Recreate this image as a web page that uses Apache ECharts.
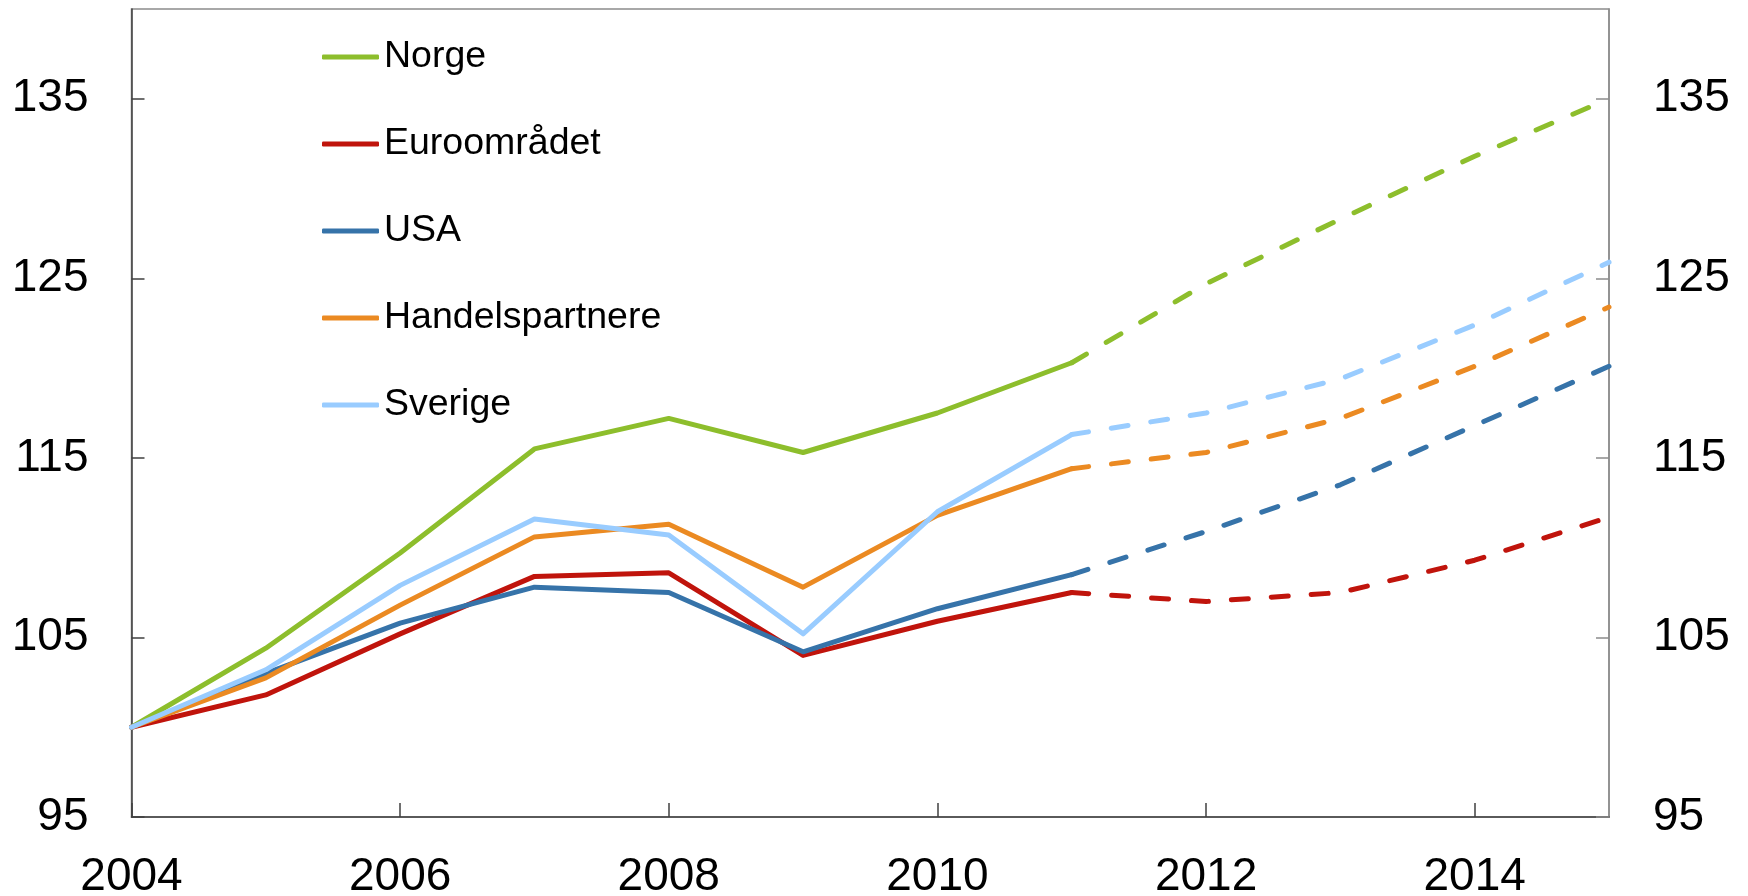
<!DOCTYPE html>
<html lang="no">
<head>
    <meta charset="UTF-8">
    <title>Norge og handelspartnere</title>
    <style>
        html, body { margin: 0; padding: 0; height: 100%; background: #fff; }
        #main { width: 1748px; height: 896px; }
    </style>
</head>
<body>
<div id="main"></div>
<script src="https://cdn.jsdelivr.net/npm/echarts@6/dist/echarts.min.js"></script>
<script type="text/javascript">
    // data, index 2004 = 100
    var years = [2004, 2005, 2006, 2007, 2008, 2009, 2010, 2011, 2012, 2013, 2014, 2015];
    var norge = [100, 104.4, 109.7, 115.5, 117.2, 115.3, 117.5, 120.3, 124.7, 128.3, 131.8, 135.0];
    var euro = [100, 101.8, 105.2, 108.4, 108.6, 104.0, 105.9, 107.5, 107.0, 107.5, 109.3, 111.7];
    var usa = [100, 103.0, 105.8, 107.8, 107.5, 104.2, 106.6, 108.5, 110.9, 113.5, 116.8, 120.1];
    var handel = [100, 102.75, 106.8, 110.6, 111.3, 107.8, 111.8, 114.4, 115.3, 117.2, 120.1, 123.4];
    var sverige = [100, 103.2, 107.9, 111.6, 110.7, 105.2, 112.0, 116.3, 117.5, 119.4, 122.4, 125.9];
    var lastActual = 2011; // after this the lines are dashed (projections)
    var yTicks = [95, 105, 115, 125, 135];

    var names = ['Norge', 'Euroområdet', 'USA', 'Handelspartnere', 'Sverige'];
    var values = [norge, euro, usa, handel, sverige];
    var colors = ['#8DBE2C', '#C0140C', '#3673A9', '#EB8A22', '#99CCFF'];

    var font = 'Liberation Sans, Arial, sans-serif';
    var myChart = echarts.init(document.getElementById('main'));

    function pairs(vals, from, to) {
        var out = [];
        years.forEach(function (y, i) {
            if (y >= from && y <= to) out.push([y, vals[i]]);
        });
        return out;
    }

    var series = [];
    names.forEach(function (name, i) {
        series.push({
            name: name,
            type: 'line',
            symbol: 'none',
            lineStyle: { color: colors[i], width: 5, cap: 'round', join: 'round' },
            itemStyle: { color: colors[i] },
            data: pairs(values[i], years[0], lastActual),
            z: 2 + i
        });
        series.push({
            name: name,
            type: 'line',
            symbol: 'none',
            lineStyle: { color: colors[i], width: 5, type: [17, 23], cap: 'round', join: 'round' },
            itemStyle: { color: colors[i] },
            data: pairs(values[i], lastActual, years[years.length - 1]),
            z: 2 + i
        });
    });

    function yAxis(pos, margin) {
        var c = pos === 'left' ? '#404040' : '#8c8c8c';
        return {
            type: 'value',
            position: pos,
            min: yTicks[0],
            max: 140,
            interval: 10,
            splitLine: { show: false },
            axisLine: { show: true, lineStyle: { color: c, width: 1.5 } },
            axisTick: { show: true, inside: true, length: 13, lineStyle: { color: c, width: 1.5 } },
            axisLabel: {
                show: true,
                margin: margin,
                color: '#000',
                fontSize: 46,
                fontFamily: font,
                showMaxLabel: false
            }
        };
    }

    var option = {
        backgroundColor: '#fff',
        animation: false,
        grid: {
            left: 131.5, right: 139, top: 9, bottom: 79,
            outerBoundsMode: 'none',
            containLabel: false,
            show: true, borderColor: '#8c8c8c', borderWidth: 1.5
        },
        legend: {
            data: names,
            orient: 'vertical',
            left: 322,
            top: 37,
            padding: 0,
            icon: 'roundRect',
            itemWidth: 57,
            itemHeight: 5,
            itemGap: 47,
            textStyle: { fontSize: 37.5, fontFamily: font, color: '#000', lineHeight: 40 }
        },
        xAxis: {
            type: 'value',
            min: years[0],
            max: years[years.length - 1],
            interval: 2,
            splitLine: { show: false },
            axisLine: { show: true, lineStyle: { color: '#404040', width: 1.5 } },
            axisTick: { show: true, inside: true, length: 14, lineStyle: { color: '#404040', width: 1.5 } },
            axisLabel: {
                margin: 37,
                color: '#000',
                fontSize: 46,
                fontFamily: font,
                showMaxLabel: false,
                formatter: function (v) { return String(v); }
            }
        },
        yAxis: [yAxis('left', 43), yAxis('right', 44)],
        series: series
    };

    myChart.setOption(option);
</script>
</body>
</html>
